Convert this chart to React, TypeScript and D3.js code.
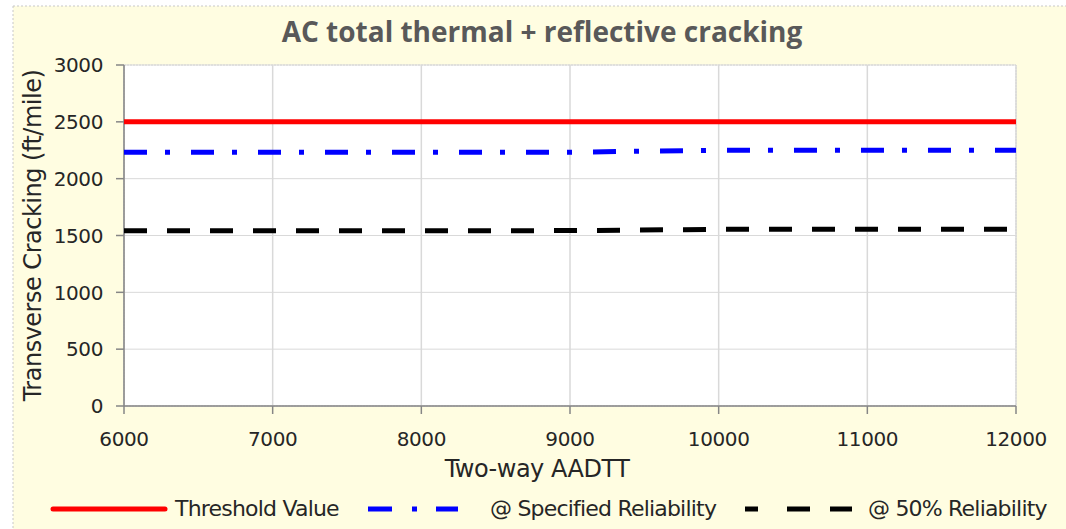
import React from "react";
import * as d3 from "d3";

const W = 1066;
const H = 529;

// AADTT levels on the x axis
const aadtt = [6000, 7000, 8000, 9000, 10000, 11000, 12000];
// Transverse cracking (ft/mile)
const thresholdValue = [2500, 2500, 2500, 2500, 2500, 2500, 2500];
const specifiedReliability = [2232, 2232, 2232, 2233, 2250, 2250, 2250];
const fiftyReliability = [1542, 1542, 1542, 1543, 1554, 1554, 1554];

const xTicks = [6000, 7000, 8000, 9000, 10000, 11000, 12000];
const yTicks = [0, 500, 1000, 1500, 2000, 2500, 3000];

const legendLabels = ["Threshold Value", "@ Specified Reliability", "@ 50% Reliability"];

const plot = { left: 124, right: 1016, top: 65, bottom: 406 };
const font = "'DejaVu Sans', Verdana, sans-serif";

export default function App() {
  const x = d3.scaleLinear().domain([6000, 12000]).range([plot.left, plot.right]);
  const y = d3.scaleLinear().domain([0, 3000]).range([plot.bottom, plot.top]);

  const line = (vals: number[]) =>
    d3
      .line<number>()
      .x((_, i) => x(aadtt[i]))
      .y((v) => y(v))(vals) as string;

  const series = [
    { vals: thresholdValue, color: "#ff0000", dash: "none" },
    { vals: specifiedReliability, color: "#0000ff", dash: "23 18 5 21" },
    { vals: fiftyReliability, color: "#000000", dash: "23 20" },
  ];

  const legendItems = [
    { lx: 53, len: 112, tx: 175, color: "#ff0000", dash: "none" },
    { lx: 368, len: 90, tx: 490, color: "#0000ff", dash: "24 20 5 19 24" },
    { lx: 745, len: 107, tx: 868, color: "#000000", dash: "13 29 23 20 23" },
  ];

  return (
    <svg
      width={W}
      height={H}
      style={{ position: "absolute", left: 0, top: 0, display: "block" }}
    >
      <rect x={0} y={0} width={W} height={H} fill="#ffffff" />
      <rect x={13} y={6} width={W - 13} height={H - 6} fill="#fffde1" />
      <line x1={13} y1={6} x2={W} y2={6} stroke="#c8c8c8" strokeDasharray="2 2" />
      <line x1={13} y1={6} x2={13} y2={H} stroke="#c8c8c8" strokeDasharray="2 2" />

      <text
        x={542}
        y={42}
        textAnchor="middle"
        fontFamily="'Open Sans', sans-serif"
        fontWeight={700}
        fontSize={28}
        fill="#595959"
      >
        AC total thermal + reflective cracking
      </text>

      {/* plot area */}
      <rect
        x={plot.left}
        y={plot.top}
        width={plot.right - plot.left}
        height={plot.bottom - plot.top}
        fill="#ffffff"
        stroke="#d0d0d0"
        strokeDasharray="2 1"
      />

      {/* gridlines */}
      {yTicks.map((t) => (
        <line
          key={"gy" + t}
          x1={plot.left}
          x2={plot.right}
          y1={y(t)}
          y2={y(t)}
          stroke="#d9d9d9"
          strokeWidth={1}
        />
      ))}
      {xTicks.map((t) => (
        <line
          key={"gx" + t}
          x1={x(t)}
          x2={x(t)}
          y1={plot.top}
          y2={plot.bottom}
          stroke="#d9d9d9"
          strokeWidth={1.5}
        />
      ))}

      {/* axes */}
      <line x1={plot.left} x2={plot.left} y1={plot.top} y2={plot.bottom} stroke="#868686" strokeWidth={1.5} />
      <line x1={plot.left} x2={plot.right} y1={plot.bottom} y2={plot.bottom} stroke="#868686" strokeWidth={1.5} />
      {yTicks.map((t) => (
        <g key={"ty" + t}>
          <line x1={plot.left - 8} x2={plot.left} y1={y(t)} y2={y(t)} stroke="#868686" strokeWidth={1.5} />
          <text
            x={103}
            y={y(t)}
            dy="0.36em"
            textAnchor="end"
            fontFamily={font}
            fontSize={20}
            letterSpacing={-0.4}
            fill="#262626"
          >
            {t}
          </text>
        </g>
      ))}
      {xTicks.map((t) => (
        <g key={"tx" + t}>
          <line x1={x(t)} x2={x(t)} y1={plot.bottom} y2={plot.bottom + 8} stroke="#868686" strokeWidth={1.5} />
          <text
            x={x(t)}
            y={446}
            textAnchor="middle"
            fontFamily={font}
            fontSize={20}
            letterSpacing={-0.4}
            fill="#262626"
          >
            {t}
          </text>
        </g>
      ))}

      {/* axis titles */}
      <text
        x={537}
        y={477}
        textAnchor="middle"
        fontFamily={font}
        fontSize={24}
        letterSpacing={-0.5}
        fill="#262626"
      >
        Two-way AADTT
      </text>
      <text
        transform={`translate(41, ${(plot.top + plot.bottom) / 2}) rotate(-90)`}
        textAnchor="middle"
        fontFamily={font}
        fontSize={24}
        letterSpacing={-0.5}
        fill="#262626"
      >
        Transverse Cracking (ft/mile)
      </text>

      {/* series */}
      {series.map((s, i) => (
        <path
          key={"s" + i}
          d={line(s.vals)}
          fill="none"
          stroke={s.color}
          strokeWidth={5}
          strokeDasharray={s.dash}
        />
      ))}

      {/* legend */}
      {legendItems.map((l, i) => (
        <g key={"lg" + i}>
          <line
            x1={l.lx}
            x2={l.lx + l.len}
            y1={509}
            y2={509}
            stroke={l.color}
            strokeWidth={5}
            strokeDasharray={l.dash}
            strokeLinecap={l.dash === "none" ? "round" : "butt"}
          />
          <text
            x={l.tx}
            y={516}
            fontFamily={font}
            fontSize={22}
            letterSpacing={-0.8}
            fill="#262626"
          >
            {legendLabels[i]}
          </text>
        </g>
      ))}
    </svg>
  );
}
